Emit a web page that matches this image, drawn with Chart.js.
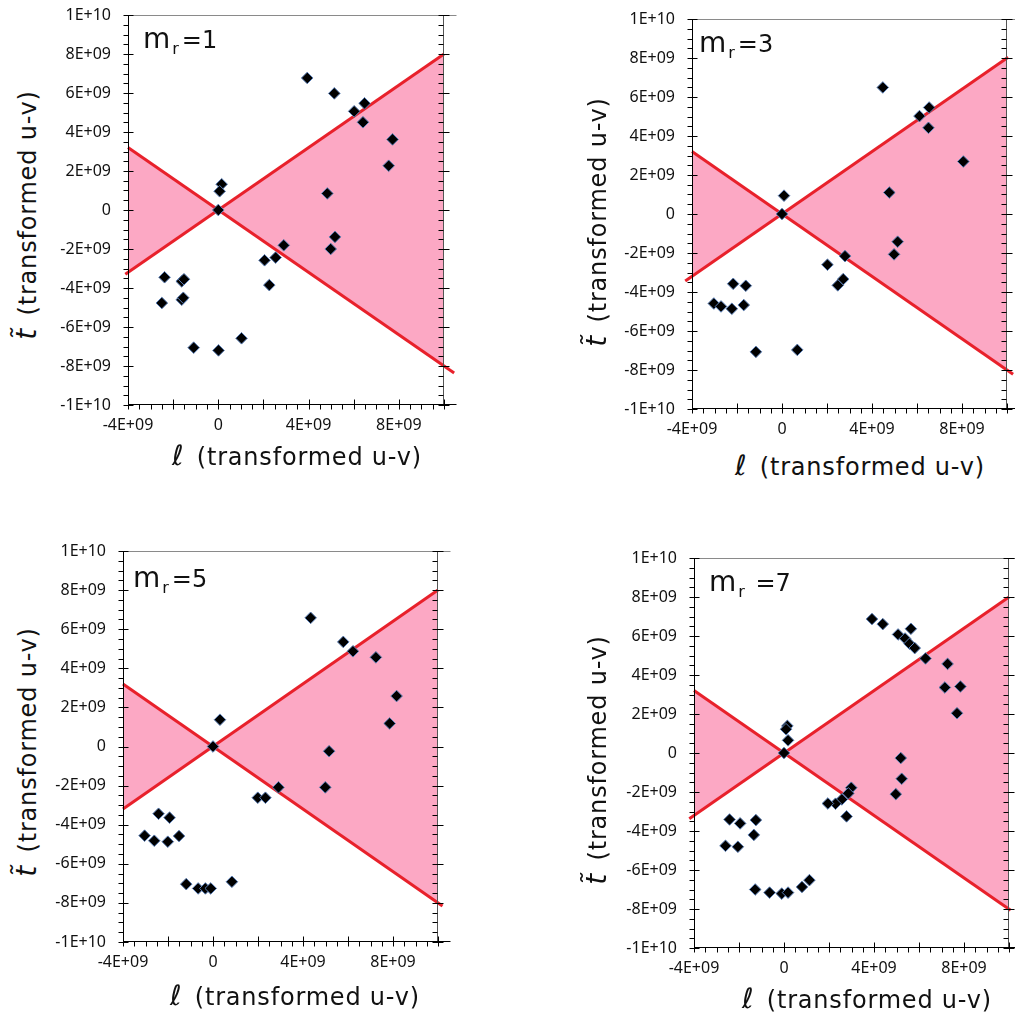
<!DOCTYPE html>
<html>
<head>
<meta charset="utf-8">
<script src="https://cdn.jsdelivr.net/npm/chart.js@4.4.1/dist/chart.umd.min.js"></script>
<style>
  html, body { margin: 0; padding: 0; background: #fff; }
  body { width: 1015px; height: 1017px; position: relative; overflow: hidden; font-family: "DejaVu Sans", sans-serif; color: #111; }
  canvas { position: absolute; }
  .lbl { position: absolute; white-space: nowrap; line-height: 1; }
  .mr { font-size: 24px; }
  .mr .m { font-size: 28px; }
  .mr sub { font-size: 16px; vertical-align: -6px; margin: 0 3px 0 2px; }
  .xt { font-size: 24px; letter-spacing: 0.8px; transform: translateY(-50%); }
  .yt { font-size: 24px; letter-spacing: 0.8px; transform: translate(-50%, -50%) rotate(-90deg); }
  .ell, .tt { font-style: italic; font-size: 28px; margin-right: 4px; }
</style>
</head>
<body>
<script>
// tick values that carry a label
const xLabelTicks = [-4e9, 0, 4e9, 8e9];
const yLabelTicks = [-1e10, -8e9, -6e9, -4e9, -2e9, 0, 2e9, 4e9, 6e9, 8e9, 1e10];

// m_r = 1
const mr1X = [3.94e9, 5.14e9, 6.02e9, 6.48e9, 6.41e9, 7.72e9, 7.55e9, 4.83e9, 0.15e9, 0.06e9, 0, 5.17e9, 4.98e9, 2.90e9, 2.54e9, 2.05e9, 2.26e9, -2.38e9, -1.62e9, -1.52e9, -2.50e9, -1.62e9, -1.55e9, -1.09e9, 0.01e9, 1.03e9];
const mr1Y = [6.77e9, 5.98e9, 5.06e9, 5.47e9, 4.50e9, 3.62e9, 2.27e9, 0.85e9, 1.32e9, 0.96e9, 0, -1.38e9, -2.00e9, -1.81e9, -2.44e9, -2.58e9, -3.85e9, -3.45e9, -3.66e9, -3.55e9, -4.77e9, -4.60e9, -4.50e9, -7.06e9, -7.20e9, -6.58e9];

// m_r = 3
const mr3X = [4.48e9, 6.11e9, 6.54e9, 6.51e9, 8.06e9, 4.77e9, 0.09e9, 0, 5.14e9, 4.98e9, 2.80e9, 2.02e9, 2.72e9, 2.48e9, -2.17e9, -1.61e9, -3.03e9, -2.71e9, -2.23e9, -1.70e9, -1.16e9, 0.68e9];
const mr3Y = [6.49e9, 5.02e9, 5.46e9, 4.42e9, 2.69e9, 1.10e9, 0.94e9, 0, -1.42e9, -2.07e9, -2.16e9, -2.60e9, -3.34e9, -3.66e9, -3.58e9, -3.68e9, -4.59e9, -4.74e9, -4.86e9, -4.67e9, -7.07e9, -6.97e9];

// m_r = 5
const mr5X = [4.34e9, 5.79e9, 6.22e9, 7.24e9, 8.16e9, 7.85e9, 0.31e9, 0, 5.16e9, 4.99e9, 2.91e9, 1.99e9, 2.33e9, -2.42e9, -1.93e9, -3.04e9, -2.61e9, -2.01e9, -1.51e9, -1.19e9, -0.66e9, -0.34e9, -0.10e9, 0.84e9];
const mr5Y = [6.58e9, 5.35e9, 4.87e9, 4.56e9, 2.58e9, 1.18e9, 1.37e9, 0, -0.24e9, -2.09e9, -2.09e9, -2.62e9, -2.62e9, -3.44e9, -3.64e9, -4.56e9, -4.82e9, -4.87e9, -4.58e9, -7.04e9, -7.26e9, -7.26e9, -7.26e9, -6.92e9];

// m_r = 7
const mr7X = [3.91e9, 4.39e9, 5.07e9, 5.38e9, 5.64e9, 5.58e9, 5.81e9, 6.29e9, 7.27e9, 7.15e9, 7.84e9, 7.69e9, 0.15e9, 0.09e9, 0.18e9, 0, 5.19e9, 5.23e9, 4.97e9, 2.99e9, 2.86e9, 2.57e9, 2.29e9, 1.95e9, 2.78e9, -2.42e9, -1.95e9, -1.25e9, -1.34e9, -2.60e9, -2.05e9, -1.28e9, -0.64e9, -0.10e9, 0.18e9, 0.80e9, 1.13e9];
const mr7Y = [6.87e9, 6.61e9, 6.08e9, 5.87e9, 6.37e9, 5.60e9, 5.38e9, 4.85e9, 4.57e9, 3.36e9, 3.41e9, 2.04e9, 1.39e9, 1.22e9, 0.65e9, 0, -0.26e9, -1.32e9, -2.11e9, -1.78e9, -2.07e9, -2.38e9, -2.60e9, -2.59e9, -3.25e9, -3.41e9, -3.61e9, -3.44e9, -4.20e9, -4.76e9, -4.81e9, -7.00e9, -7.16e9, -7.21e9, -7.16e9, -6.87e9, -6.52e9];

// shaded wedge between the lines t = ±0.8 l
const wedgeLow = [[-4e9, -3.2e9], [1e10, 8e9]];
const wedgeHigh = [[-4e9, 3.2e9], [1e10, -8e9]];

// red boundary lines, end points as drawn in each panel
const mr1Rise = [[-4.12e9, -3.30e9], [1e10, 8e9]];
const mr1Fall = [[-4e9, 3.2e9], [1.045e10, -8.36e9]];
const mr3Rise = [[-4.3e9, -3.44e9], [1.005e10, 8.04e9]];
const mr3Fall = [[-4e9, 3.2e9], [1.027e10, -8.22e9]];
const mr5Rise = [[-4e9, -3.2e9], [1e10, 8e9]];
const mr5Fall = [[-4e9, 3.2e9], [1.02e10, -8.16e9]];
const mr7Rise = [[-4.21e9, -3.37e9], [1e10, 8e9]];
const mr7Fall = [[-4e9, 3.2e9], [1.007e10, -8.06e9]];

const RED = '#e8212b', PINK = '#fca8c4';
const AXW = 80, PADT = 32, PADR = 24, AXH = 40;

const panels = [
  { tag: '1', xs: mr1X, ys: mr1Y, rise: mr1Rise, fall: mr1Fall, plot: [128, 15, 316, 390], mr: [143, 25], xt: [172, 456], yt: [27, 215] },
  { tag: '3', xs: mr3X, ys: mr3Y, rise: mr3Rise, fall: mr3Fall, plot: [692, 19, 315, 390], mr: [699, 29], xt: [735, 466], yt: [597, 222] },
  { tag: '5', xs: mr5X, ys: mr5Y, rise: mr5Rise, fall: mr5Fall, plot: [123, 551, 315, 391], mr: [133, 564], xt: [170, 996], yt: [27, 752] },
  { tag: '7', xs: mr7X, ys: mr7Y, rise: mr7Rise, fall: mr7Fall, plot: [694, 558, 315, 390], mr: [709, 568], xt: [742, 999], yt: [597, 760] }
];

function sci(v) {
  if (v === 0) return '0';
  const e = Math.floor(Math.log10(Math.abs(v)) + 1e-9);
  const m = Math.round(v / Math.pow(10, e));
  return m + 'E+' + String(e).padStart(2, '0');
}

const pts = arr => arr.map(([x, y]) => ({ x, y }));

function stroke(ctx, color, x1, y1, x2, y2) {
  ctx.strokeStyle = color;
  ctx.beginPath(); ctx.moveTo(x1, y1); ctx.lineTo(x2, y2); ctx.stroke();
}

// frame plus major/minor tick marks (major cross the axis, minor sit outside)
const frameTicks = {
  id: 'frameTicks',
  afterDraw(chart) {
    const { ctx, chartArea: a, scales: { x, y } } = chart;
    const L = Math.round(a.left) + 0.5, R = Math.round(a.right) - 0.5, T = Math.round(a.top) + 0.5, B = Math.round(a.bottom) - 0.5;
    ctx.save();
    ctx.lineWidth = 1;
    stroke(ctx, '#8a8a8a', L, T, R + 13, T);
    stroke(ctx, '#555', R, T, R, B);
    stroke(ctx, '#000', L, T, L, B + 1);
    stroke(ctx, '#000', L, B, R + 13, B);
    ctx.strokeStyle = '#000';
    ctx.beginPath();
    for (let i = 0; i <= 40; i++) {
      const py = Math.round(y.getPixelForValue(-1e10 + i * 5e8)) + 0.5;
      const major = i % 4 === 0;
      ctx.moveTo(L - 5, py); ctx.lineTo(major ? L + 5 : L, py);
      ctx.moveTo(R - 5, py); ctx.lineTo(major ? R + 6 : R, py);
    }
    for (let i = 0; i <= 28; i++) {
      const px = Math.round(x.getPixelForValue(-4e9 + i * 5e8)) + 0.5;
      const major = i % 4 === 0;
      ctx.moveTo(px, major ? B - 5 : B); ctx.lineTo(px, B + 5);
    }
    ctx.stroke();
    ctx.restore();
  }
};

const tickFont = { family: '"Noto Sans", sans-serif', size: 16 };

function addLabel(cls, html, left, top) {
  const d = document.createElement('div');
  d.className = 'lbl ' + cls;
  d.innerHTML = html;
  d.style.left = left + 'px';
  d.style.top = top + 'px';
  document.body.appendChild(d);
}

panels.forEach(p => {
  const [pl, pt, pw, ph] = p.plot;
  const cv = document.createElement('canvas');
  const W = pw + AXW + PADR, H = ph + PADT + AXH;
  cv.width = W; cv.height = H;
  cv.style.width = W + 'px'; cv.style.height = H + 'px';
  cv.style.left = (pl - AXW) + 'px';
  cv.style.top = (pt - PADT) + 'px';
  document.body.appendChild(cv);

  new Chart(cv, {
    type: 'scatter',
    data: {
      datasets: [
        { data: p.xs.map((x, i) => ({ x, y: p.ys[i] })), pointStyle: 'rectRot', pointRadius: 5.8, backgroundColor: '#000', borderColor: '#5b7fb6', borderWidth: 1 },
        { type: 'line', data: pts(p.rise), borderColor: RED, borderWidth: 3, pointRadius: 0, fill: false, clip: false },
        { type: 'line', data: pts(p.fall), borderColor: RED, borderWidth: 3, pointRadius: 0, fill: false, clip: false },
        { type: 'line', data: pts(wedgeLow), borderWidth: 0, pointRadius: 0, fill: false },
        { type: 'line', data: pts(wedgeHigh), borderWidth: 0, pointRadius: 0, fill: '-1', backgroundColor: PINK }
      ]
    },
    options: {
      responsive: false,
      animation: false,
      devicePixelRatio: 1,
      events: [],
      layout: { padding: { top: PADT, right: PADR, left: 0, bottom: 0 } },
      plugins: { legend: { display: false }, tooltip: { enabled: false } },
      scales: {
        x: {
          type: 'linear', min: -4e9, max: 1e10,
          grid: { display: false, drawTicks: false }, border: { display: false },
          afterBuildTicks: s => { s.ticks = xLabelTicks.map(v => ({ value: v })); },
          afterFit: s => { s.height = AXH; },
          ticks: { callback: v => sci(v), padding: 11, color: '#111', font: tickFont, maxRotation: 0, autoSkip: false }
        },
        y: {
          type: 'linear', min: -1e10, max: 1e10,
          grid: { display: false, drawTicks: false }, border: { display: false },
          afterBuildTicks: s => { s.ticks = yLabelTicks.map(v => ({ value: v })); },
          afterFit: s => { s.width = AXW; },
          ticks: { callback: v => sci(v), padding: 17, color: '#111', font: tickFont, autoSkip: false }
        }
      }
    },
    plugins: [frameTicks]
  });

  addLabel('mr', '<span class="m">m</span><sub>r</sub>' + (p.tag === '7' ? ' ' : '') + '=' + p.tag, p.mr[0], p.mr[1]);
  addLabel('xt', '<i class="ell">ℓ</i> (transformed u-v)', p.xt[0], p.xt[1]);
  addLabel('yt', '<i class="tt">t\u0303</i> (transformed u-v)', p.yt[0], p.yt[1]);
});
</script>
</body>
</html>
